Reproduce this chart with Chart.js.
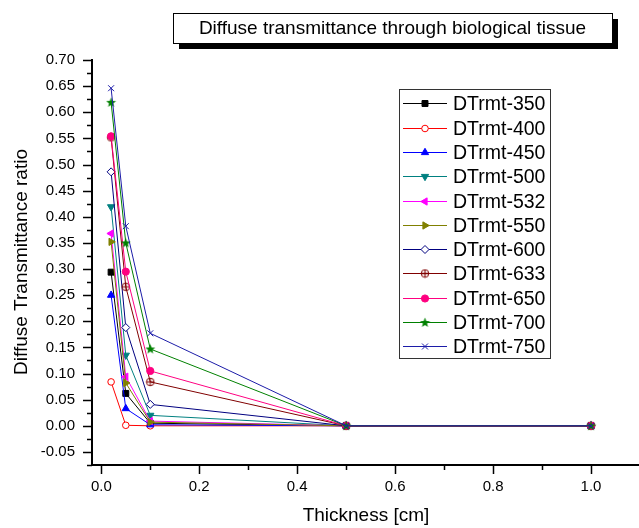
<!DOCTYPE html>
<html>
<head>
<meta charset="utf-8">
<script src="https://cdn.jsdelivr.net/npm/chart.js@4.4.0/dist/chart.umd.min.js"></script>
<style>
  html, body { margin: 0; padding: 0; background: #fff; }
  canvas { display: block; }
</style>
</head>
<body>
<canvas id="chart" width="639" height="528"></canvas>
<script>
// sample thickness [cm]
const thickness = [0.02, 0.05, 0.1, 0.5, 1.0];

// diffuse transmittance ratio, one list per wavelength (nm)
const dt350 = [0.294, 0.062, 0.005, 0, 0];
const dt400 = [0.084, 0.001, 0.000, 0, 0];
const dt450 = [0.250, 0.033, 0.002, 0, 0];
const dt500 = [0.419, 0.135, 0.020, 0, 0];
const dt532 = [0.368, 0.094, 0.009, 0, 0];
const dt550 = [0.352, 0.082, 0.007, 0, 0];
const dt600 = [0.486, 0.188, 0.041, 0, 0];
const dt633 = [0.552, 0.266, 0.084, 0, 0];
const dt650 = [0.554, 0.295, 0.105, 0, 0];
const dt700 = [0.619, 0.350, 0.147, 0, 0];
const dt750 = [0.646, 0.382, 0.177, 0, 0];

const seriesNames = ['DTrmt-350', 'DTrmt-400', 'DTrmt-450', 'DTrmt-500', 'DTrmt-532', 'DTrmt-550',
                     'DTrmt-600', 'DTrmt-633', 'DTrmt-650', 'DTrmt-700', 'DTrmt-750'];
const seriesValues = [dt350, dt400, dt450, dt500, dt532, dt550, dt600, dt633, dt650, dt700, dt750];

const xTicks = [0, 0.2, 0.4, 0.6, 0.8, 1.0];
const yTicks = [-0.05, 0, 0.05, 0.10, 0.15, 0.20, 0.25, 0.30, 0.35, 0.40, 0.45, 0.50, 0.55, 0.60, 0.65, 0.70];

const chartTitle = 'Diffuse transmittance through biological tissue';
const xTitle = 'Thickness [cm]';
const yTitle = 'Diffuse Transmittance ratio';

const FONT = '"Liberation Sans", Arial, sans-serif';

// custom markers: circle with plus, filled star
function circlePlus(color) {
  const c = document.createElement('canvas');
  c.width = 10; c.height = 10;
  const g = c.getContext('2d');
  g.strokeStyle = color; g.lineWidth = 1;
  g.beginPath(); g.arc(5, 5, 3.8, 0, Math.PI * 2); g.stroke();
  g.beginPath(); g.moveTo(1.2, 5); g.lineTo(8.8, 5); g.moveTo(5, 1.2); g.lineTo(5, 8.8); g.stroke();
  return c;
}
function filledStar(color) {
  const c = document.createElement('canvas');
  c.width = 11; c.height = 11;
  const g = c.getContext('2d');
  g.fillStyle = color;
  g.beginPath();
  for (let i = 0; i < 10; i++) {
    const r = i % 2 ? 2.2 : 5.2;
    const a = -Math.PI / 2 + i * Math.PI / 5;
    g.lineTo(5.5 + r * Math.cos(a), 5.8 + r * Math.sin(a));
  }
  g.closePath(); g.fill();
  return c;
}

// marker styles, same order as the series
const styles = [
  { color: '#000000', point: 'rect', rot: 0, r: 4.2, fill: true },
  { color: '#ff0000', point: 'circle', rot: 0, r: 3.3, fill: false },
  { color: '#0000ff', point: 'triangle', rot: 0, r: 4.2, fill: true },
  { color: '#008080', point: 'triangle', rot: 180, r: 4.2, fill: true },
  { color: '#ff00ff', point: 'triangle', rot: 270, r: 4.2, fill: true },
  { color: '#808000', point: 'triangle', rot: 90, r: 4.2, fill: true },
  { color: '#000080', point: 'rectRot', rot: 0, r: 4, fill: false },
  { color: '#800000', point: circlePlus('#800000'), rot: 0, r: 4, fill: false },
  { color: '#ff0080', point: 'circle', rot: 0, r: 3.6, fill: true },
  { color: '#008000', point: filledStar('#008000'), rot: 0, r: 4, fill: true },
  { color: '#1c1ca8', point: 'crossRot', rot: 0, r: 4.2, fill: false }
];

const datasets = seriesNames.map((name, i) => {
  const s = styles[i];
  return {
    label: name,
    data: thickness.map((t, j) => ({ x: t, y: seriesValues[i][j] })),
    borderColor: s.color,
    borderWidth: 1,
    pointStyle: s.point,
    pointRotation: s.rot,
    pointRadius: s.r,
    pointBorderWidth: 1,
    pointBorderColor: s.color,
    pointBackgroundColor: s.fill ? s.color : '#ffffff',
    tension: 0,
    order: seriesNames.length - i
  };
});

const decor = {
  id: 'decor',
  afterDraw(chart) {
    const ctx = chart.ctx, xs = chart.scales.x, ys = chart.scales.y, a = chart.chartArea;
    ctx.save();
    // tick marks (major + minor), outward
    ctx.strokeStyle = '#000'; ctx.lineWidth = 1.5;
    ctx.beginPath();
    for (let k = -3; k <= 28; k++) {
      const py = Math.round(ys.getPixelForValue(k * 0.025)) + 0.5;
      const len = k % 2 === 0 ? 9 : 5;
      ctx.moveTo(a.left, py); ctx.lineTo(a.left - len, py);
    }
    for (let k = 0; k <= 10; k++) {
      const px = Math.round(xs.getPixelForValue(k * 0.1)) + 0.5;
      const len = k % 2 === 0 ? 9 : 5;
      ctx.moveTo(px, a.bottom); ctx.lineTo(px, a.bottom + len);
    }
    ctx.stroke();

    // title box with shadow
    const bx = 173, by = 13, bw = 439, bh = 30;
    ctx.fillStyle = '#000';
    ctx.fillRect(bx + 6, by + 6, bw, bh);
    ctx.fillStyle = '#fff';
    ctx.fillRect(bx, by, bw, bh);
    ctx.lineWidth = 1; ctx.strokeStyle = '#000';
    ctx.strokeRect(bx + 0.5, by + 0.5, bw, bh);
    ctx.fillStyle = '#000';
    ctx.font = '19px ' + FONT;
    ctx.textAlign = 'center'; ctx.textBaseline = 'middle';
    ctx.fillText(chartTitle, bx + bw / 2, by + bh / 2 + 1);

    // axis titles
    ctx.fillText(xTitle, 366, 516);
    ctx.save();
    ctx.translate(22, 262); ctx.rotate(-Math.PI / 2);
    ctx.fillText(yTitle, 0, 0);
    ctx.restore();

    // legend box
    const lx = 399, ly = 89, lw = 151, lh = 269;
    ctx.fillStyle = '#fff';
    ctx.fillRect(lx, ly, lw, lh);
    ctx.strokeStyle = '#333'; ctx.lineWidth = 1;
    ctx.strokeRect(lx + 0.5, ly + 0.5, lw, lh);
    ctx.font = '19.5px ' + FONT;
    ctx.textAlign = 'left'; ctx.textBaseline = 'middle';
    seriesNames.forEach((name, i) => {
      const s = styles[i];
      const y = Math.round(103.3 + i * 24.3) + 0.5;
      ctx.strokeStyle = s.color; ctx.lineWidth = 1;
      ctx.beginPath(); ctx.moveTo(403, y); ctx.lineTo(447, y); ctx.stroke();
      ctx.fillStyle = s.fill ? s.color : '#fff';
      Chart.helpers.drawPoint(ctx, { pointStyle: s.point, rotation: s.rot, radius: s.r, borderWidth: 1 }, 425, y);
      ctx.fillStyle = '#000';
      ctx.fillText(name, 453, y + 1);
    });
    ctx.restore();
  }
};

new Chart(document.getElementById('chart'), {
  type: 'line',
  data: { datasets },
  options: {
    responsive: false,
    animation: false,
    devicePixelRatio: 1,
    layout: { autoPadding: false, padding: { top: 60, right: 0, left: 0, bottom: 0 } },
    plugins: { legend: { display: false }, tooltip: { enabled: false }, title: { display: false } },
    scales: {
      x: {
        type: 'linear',
        min: -0.019, max: 1.098,
        afterFit: s => { s.height = 63; s.paddingLeft = 0; s.paddingRight = 0; },
        afterBuildTicks: s => { s.ticks = xTicks.map(v => ({ value: v })); },
        grid: { display: false, drawTicks: false },
        border: { display: true, color: '#000', width: 2 },
        ticks: { color: '#000', padding: 13, font: { family: FONT, size: 15 }, callback: v => v.toFixed(1) }
      },
      y: {
        type: 'linear',
        min: -0.075, max: 0.70,
        afterFit: s => { s.width = 92; s.paddingTop = 0; s.paddingBottom = 0; },
        afterBuildTicks: s => { s.ticks = yTicks.map(v => ({ value: v })); },
        grid: { display: false, drawTicks: false },
        border: { display: true, color: '#000', width: 2 },
        ticks: { color: '#000', padding: 17, font: { family: FONT, size: 15 }, callback: v => (Math.abs(v) < 1e-9 ? 0 : v).toFixed(2) }
      }
    }
  },
  plugins: [decor]
});
</script>
</body>
</html>
